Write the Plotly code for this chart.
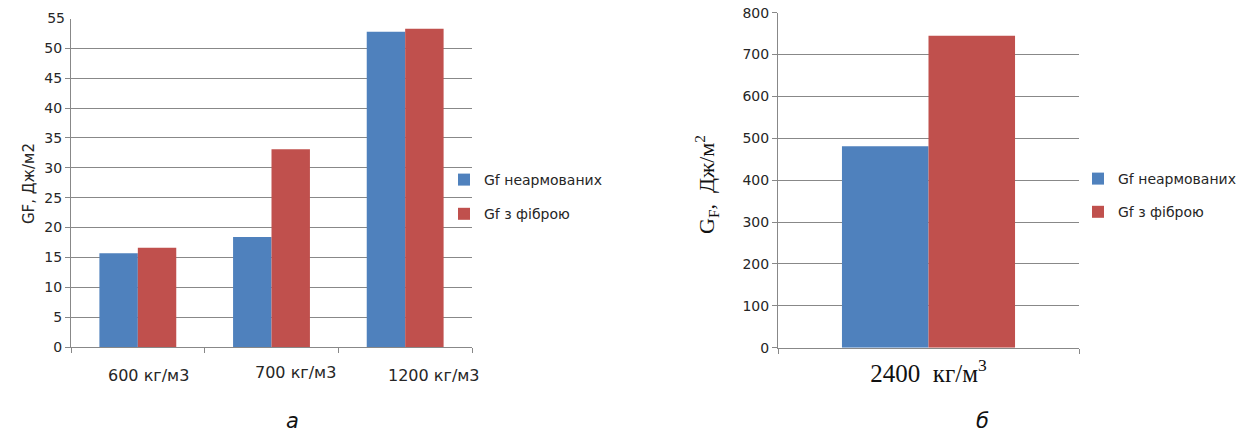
import plotly.graph_objects as go

# ---- data ----
categories_a = ["600 кг/м3", "700 кг/м3", "1200 кг/м3"]
gf_plain_a = [15.7, 18.4, 52.8]
gf_fiber_a = [16.6, 33.1, 53.3]

categories_b = ["2400  кг/м<sup>3</sup>"]
gf_plain_b = [481]
gf_fiber_b = [745]

series_names = ["Gf неармованих", "Gf з фіброю"]
yticks_a = [0, 5, 10, 15, 20, 25, 30, 35, 40, 45, 50]
ytick_top_a = [55]
yticks_b = [0, 100, 200, 300, 400, 500, 600, 700, 800]

# ---- style ----
W, H = 1245, 434
BLUE = "#4F81BD"
RED = "#C0504D"
GRID = "#888888"
TXT = "#262626"
SANS = "DejaVu Sans"
SERIF = "Liberation Serif"


def px(xp):
    return xp / W


def py(yp):
    return 1 - yp / H


fig = go.Figure()

fig.add_trace(go.Bar(x=categories_a, y=gf_plain_a, name=series_names[0], marker_color=BLUE,
                     marker_line_width=0, xaxis="x", yaxis="y", legend="legend", legendgroup="a1"))
fig.add_trace(go.Bar(x=categories_a, y=gf_fiber_a, name=series_names[1], marker_color=RED,
                     marker_line_width=0, xaxis="x", yaxis="y", legend="legend", legendgroup="a2"))
fig.add_trace(go.Bar(x=categories_b, y=gf_plain_b, name=series_names[0], marker_color=BLUE,
                     marker_line_width=0, xaxis="x2", yaxis="y2", legend="legend2", legendgroup="b1"))
fig.add_trace(go.Bar(x=categories_b, y=gf_fiber_b, name=series_names[1], marker_color=RED,
                     marker_line_width=0, xaxis="x2", yaxis="y2", legend="legend2", legendgroup="b2"))

axis_common = dict(showline=True, linecolor=GRID, linewidth=1, tickcolor=GRID, ticklen=5, tickwidth=1,
                   zeroline=False, fixedrange=True, automargin=False)

fig.update_layout(
    width=W, height=H,
    margin=dict(l=0, r=0, t=0, b=0, autoexpand=False),
    paper_bgcolor="white", plot_bgcolor="white",
    barmode="group", bargap=0.425, bargroupgap=0,
    font=dict(family=SANS, size=14, color=TXT),
    xaxis=dict(domain=[px(71), px(472)], type="category", anchor="y", ticks="outside",
               range=[-0.5, len(categories_a) - 0.5],
               tickson="boundaries", showticklabels=False, showgrid=False, **axis_common),
    yaxis=dict(domain=[py(347), py(18.5)], range=[0, 55], anchor="x", tickmode="array",
               tickvals=yticks_a, ticks="outside", showgrid=True, gridcolor=GRID, gridwidth=1,
               tickfont=dict(family=SANS, size=14, color=TXT), **axis_common),
    yaxis3=dict(overlaying="y", anchor="x", side="left", range=[0, 55], tickmode="array",
                tickvals=ytick_top_a, ticks="", showgrid=False, showline=False, zeroline=False,
                automargin=False, tickfont=dict(family=SANS, size=14, color=TXT), ticklabelstandoff=5),
    xaxis2=dict(domain=[px(778), px(1079)], type="category", anchor="y2", ticks="outside",
                range=[-0.5, len(categories_b) - 0.5],
                tickson="boundaries", showgrid=False, ticklabelstandoff=3,
                tickfont=dict(family=SERIF, size=25, color="#111111"), **axis_common),
    yaxis2=dict(domain=[py(347.7), py(12.7)], range=[0, 800], anchor="x2", tickmode="array",
                tickvals=yticks_b, ticks="outside", showgrid=True, gridcolor=GRID, gridwidth=1,
                tickfont=dict(family=SANS, size=14, color=TXT), **axis_common),
    legend=dict(x=px(444), y=py(164), xanchor="left", yanchor="top", bgcolor="rgba(0,0,0,0)",
                font=dict(family=SANS, size=14, color=TXT), traceorder="grouped", tracegroupgap=13),
    legend2=dict(x=px(1078), y=py(163), xanchor="left", yanchor="top", bgcolor="rgba(0,0,0,0)",
                 font=dict(family=SANS, size=14, color=TXT), traceorder="grouped", tracegroupgap=12),
)

# invisible helper trace so the overlay axis carrying the top "55" label is drawn
fig.add_trace(go.Scatter(x=[categories_a[0]], y=[0], xaxis="x", yaxis="y3", mode="markers",
                         marker=dict(opacity=0), showlegend=False, hoverinfo="skip"))

annotations = []
# x category labels for chart а (Excel-style offset)
label_shift_a = [11, 24, 29]
label_dy_a = [-28, -25, -28]
for cat, dx, dy in zip(categories_a, label_shift_a, label_dy_a):
    annotations.append(dict(x=cat, y=0, xref="x", yref="y", text=cat, showarrow=False,
                            xshift=dx, yshift=dy, font=dict(family=SANS, size=16, color=TXT)))

# axis titles
annotations.append(dict(x=px(18), y=py(184), xref="paper", yref="paper", text="GF, Дж/м2",
                        textangle=-90, showarrow=False, font=dict(family=SANS, size=15, color=TXT)))
annotations.append(dict(x=px(706), y=py(185), xref="paper", yref="paper",
                        text="G<sub>F</sub>,  Дж/м<sup>2</sup>", textangle=-90, showarrow=False,
                        font=dict(family=SERIF, size=22, color="#111111")))
# captions
annotations.append(dict(x=px(292), y=0, xref="paper", yref="paper", text="<i>а</i>",
                        xanchor="center", yanchor="bottom", borderpad=0, showarrow=False,
                        font=dict(family=SANS, size=21, color="#111111")))
annotations.append(dict(x=px(982), y=0, xref="paper", yref="paper", text="<i>б</i>",
                        xanchor="center", yanchor="bottom", borderpad=0, showarrow=False,
                        font=dict(family=SANS, size=21, color="#111111")))

fig.update_layout(annotations=annotations)

fig.write_html("out.html")
